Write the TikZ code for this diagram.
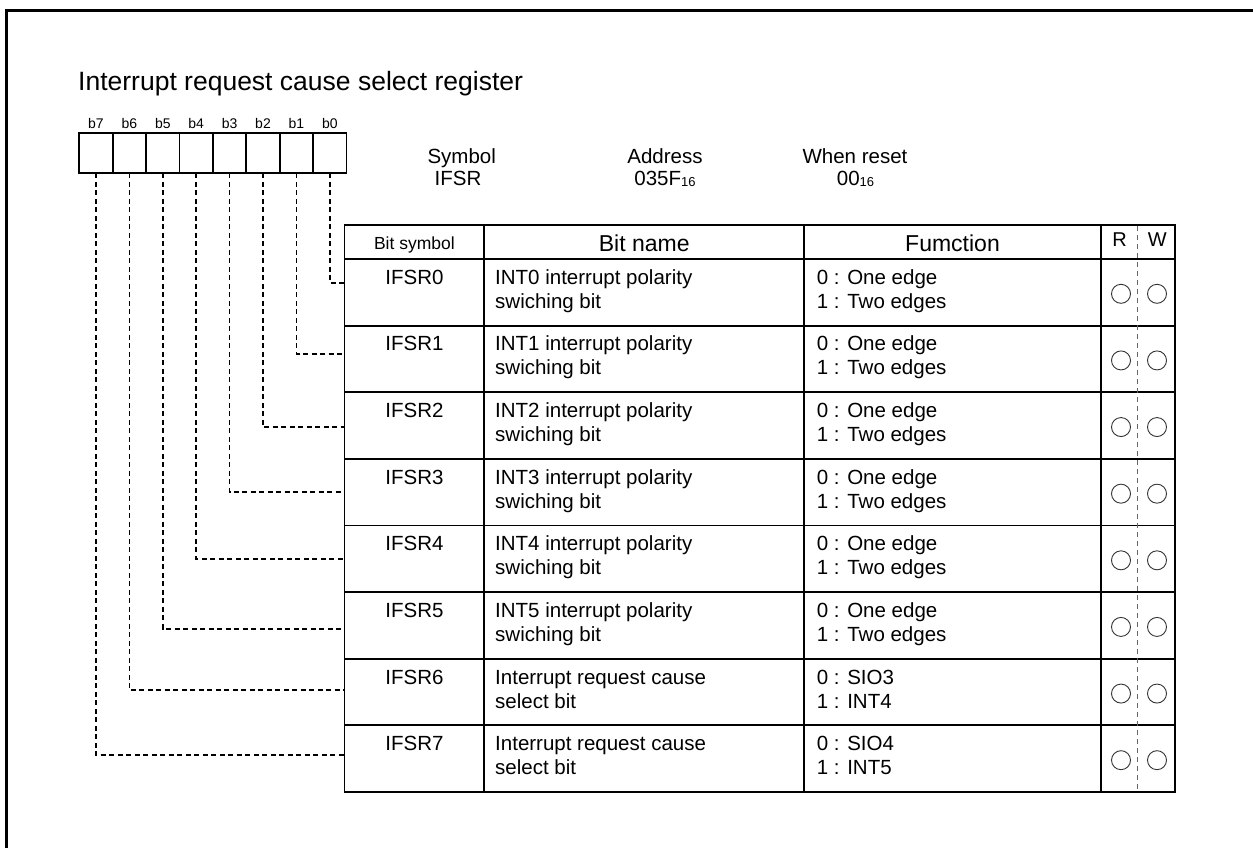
\documentclass[tikz,border=0pt]{standalone}
\usepackage{fontspec}
\setmainfont{Liberation Sans}
\newcommand{\hexsub}{{\fontsize{13}{13}\selectfont\raisebox{-1pt}{16}}}
\begin{document}
\begin{tikzpicture}[x=1pt,y=-1pt,
  frame/.style={line width=2.5pt},
  cell/.style={draw, line width=1.8pt, minimum width=33.4pt, minimum height=40pt, inner sep=0pt, outer sep=0pt},
  bitlbl/.style={font=\fontsize{14}{14}\selectfont, inner sep=0pt, anchor=base},
  conn/.style={line width=1.7pt, dash pattern=on 5pt off 3.5pt},
  tbl/.style={line width=1.8pt},
  rwsep/.style={line width=0.9pt, black!60, dash pattern=on 5pt off 4pt},
  rwcirc/.style={draw, circle, line width=0.9pt, black!80, minimum size=19pt, inner sep=0pt},
  txt/.style={font=\fontsize{20.5}{24}\selectfont, inner sep=0pt},
  hdr/.style={font=\fontsize{23}{26}\selectfont, inner sep=0pt, anchor=base},
]
\path[use as bounding box, clip] (0,0) rectangle (1253,847);
\draw[frame] (6.5,10.5) rectangle (1300,900);

% title
\node[font=\fontsize{26.5}{30}\selectfont, inner sep=0pt, anchor=base west] (title) at (78,90) {Interrupt request cause select register};

% register cells and bit labels
\foreach \k in {0,...,7}{
  \node[cell] (c\k) at ({96+33.4*(7-\k)},153.3) {};
  \node[bitlbl] (b\k) at ({96+33.4*(7-\k)},128.3) {b\k};
}

% symbol / address / reset
\node[txt, anchor=base] (symh) at (461.7,163) {Symbol};
\node[txt, anchor=base] (symv) at (458,185) {IFSR};
\node[txt, anchor=base] (addh) at (665,163) {Address};
\node[txt, anchor=base] (addv) at (665,185) {035F\hexsub};
\node[txt, anchor=base] (rsth) at (855,163) {When reset};
\node[txt, anchor=base] (rstv) at (855.5,185) {00\hexsub};

% table grid
\draw[tbl] (344.5,225) rectangle (1174.7,792);
\draw[tbl] (344.5,259) -- (1174.7,259);
\foreach \i in {1,...,7}{
  \draw[tbl] (344.5,{259+66.625*\i}) -- (1174.7,{259+66.625*\i});
}
\draw[tbl] (484.3,225) -- (484.3,792);
\draw[tbl] (804,225) -- (804,792);
\draw[tbl] (1101,225) -- (1101,792);
\draw[rwsep] (1137.5,226) -- (1137.5,791);

% header
\node[font=\fontsize{17.5}{20}\selectfont, inner sep=0pt, anchor=base] (hsym) at (414.4,249.3) {Bit symbol};
\node[hdr] (hname) at (644.2,251.7) {Bit name};
\node[hdr] (hfun) at (952.5,251.7) {Fumction};
\node[txt, font=\fontsize{20}{24}\selectfont, anchor=base] (hr) at (1119.5,246) {R};
\node[txt, font=\fontsize{20}{24}\selectfont, anchor=base] (hw) at (1157.3,246) {W};

% rows
\foreach \i/\na/\nb/\fa/\fb in {
  0/INT0 interrupt polarity/swiching bit/0 : One edge/1 : Two edges,
  1/INT1 interrupt polarity/swiching bit/0 : One edge/1 : Two edges,
  2/INT2 interrupt polarity/swiching bit/0 : One edge/1 : Two edges,
  3/INT3 interrupt polarity/swiching bit/0 : One edge/1 : Two edges,
  4/INT4 interrupt polarity/swiching bit/0 : One edge/1 : Two edges,
  5/INT5 interrupt polarity/swiching bit/0 : One edge/1 : Two edges,
  6/Interrupt request cause/select bit/0 : SIO3/1 : INT4,
  7/Interrupt request cause/select bit/0 : SIO4/1 : INT5}{
  \pgfmathsetmacro{\top}{259+66.625*\i}
  \node[txt, anchor=base] (s\i) at (414.4,\top+25.3) {IFSR\i};
  \node[txt, anchor=base west] (na\i) at (495,\top+25.3) {\na};
  \node[txt, anchor=base west] (nb\i) at (495,\top+49.3) {\nb};
  \node[txt, anchor=base west] (fa\i) at (816.7,\top+25.3) {\fa};
  \node[txt, anchor=base west] (fb\i) at (816.7,\top+49.3) {\fb};
  \node[rwcirc] (r\i) at (1121,\top+34.8) {};
  \node[rwcirc] (w\i) at (1157,\top+34.8) {};
}

% connectors
\foreach \k/\yy in {0/283,1/353.7,2/427.3,3/492.3,4/558.7,5/628.7,6/690.3,7/755.3}{
  \coordinate (t\k) at (344.5,\yy);
  \draw[conn] (c\k.south) |- (t\k);
}
\end{tikzpicture}
\end{document}
